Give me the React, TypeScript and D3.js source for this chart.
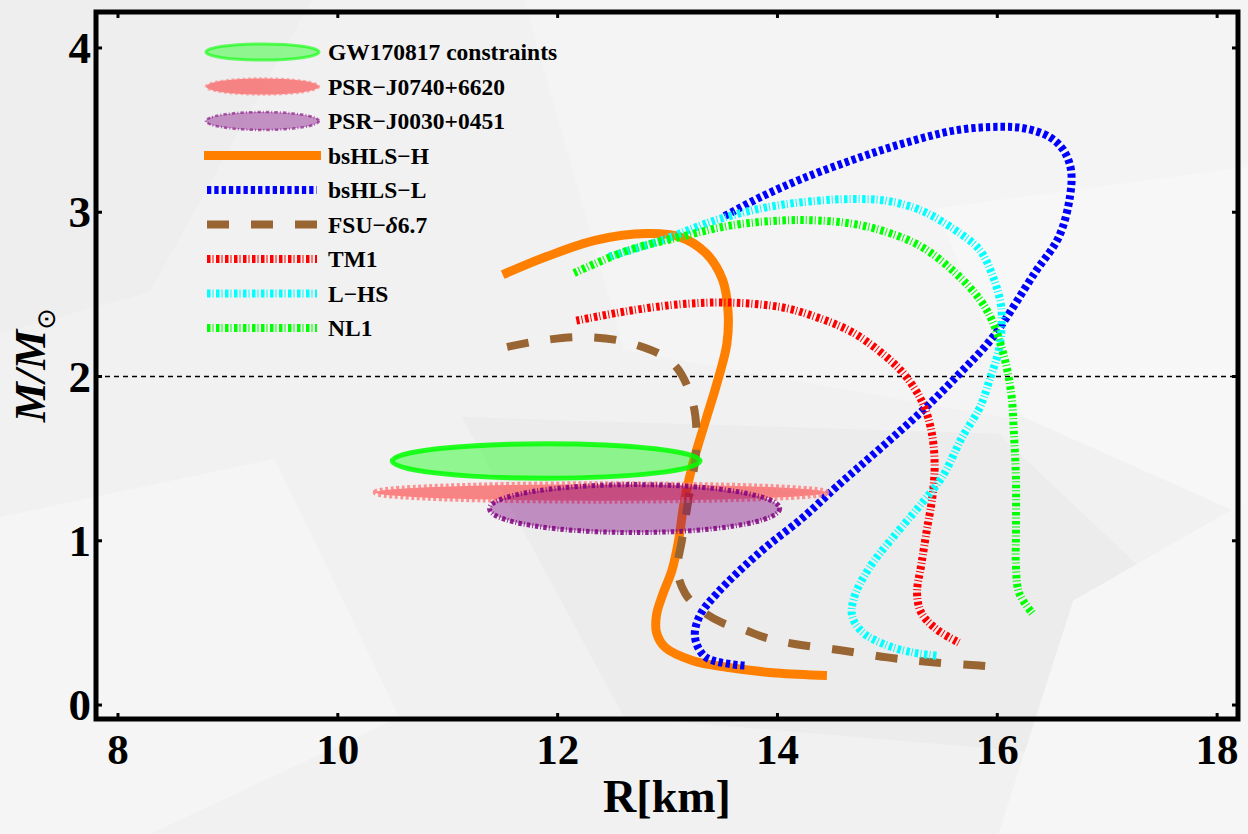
import React, { useEffect, useRef } from 'react';
import * as d3 from 'd3';

type Pt = [number, number];

const xTicks = [8, 10, 12, 14, 16, 18];
const yTicks = [0, 1, 2, 3, 4];

// mass-radius curves, [R in km, M in solar masses]
const bsHLSH: Pt[] = [
  [11.50, 2.62], [11.90, 2.73], [12.35, 2.83], [12.81, 2.87], [13.11, 2.85], [13.35, 2.75],
  [13.50, 2.59], [13.55, 2.40], [13.54, 2.20], [13.45, 1.96], [13.35, 1.74], [13.23, 1.47],
  [13.15, 1.23], [13.10, 1.00], [13.04, 0.82], [12.96, 0.68], [12.90, 0.55], [12.90, 0.44],
  [12.98, 0.35], [13.23, 0.27], [13.54, 0.23], [13.99, 0.195], [14.45, 0.18]
];
const bsHLSL: Pt[] = [
  [13.70, 0.24], [13.35, 0.29], [13.25, 0.41], [13.29, 0.54], [13.45, 0.68], [13.84, 0.93],
  [14.23, 1.14], [14.54, 1.33], [15.30, 1.78], [15.66, 2.02], [15.96, 2.24], [16.34, 2.63],
  [16.56, 2.85], [16.66, 3.09], [16.67, 3.26], [16.60, 3.38], [16.47, 3.46], [16.25, 3.51],
  [16.03, 3.52], [15.63, 3.50], [15.15, 3.42], [14.69, 3.32], [14.21, 3.20], [13.84, 3.09],
  [13.50, 2.97]
];
const fsu: Pt[] = [
  [11.54, 2.18], [11.86, 2.22], [12.27, 2.24], [12.68, 2.20], [13.05, 2.08], [13.23, 1.84],
  [13.26, 1.55], [13.20, 1.29], [13.13, 1.00], [13.09, 0.82], [13.16, 0.68], [13.30, 0.58],
  [13.50, 0.50], [13.69, 0.46], [13.89, 0.41], [14.17, 0.37], [14.56, 0.335], [15.00, 0.29],
  [15.41, 0.26], [15.84, 0.24], [15.93, 0.235]
];
const tm1: Pt[] = [
  [12.17, 2.34], [12.65, 2.40], [13.12, 2.44], [13.58, 2.45], [14.05, 2.42], [14.36, 2.36],
  [14.68, 2.27], [14.99, 2.12], [15.17, 2.00], [15.32, 1.84], [15.40, 1.67], [15.43, 1.47],
  [15.41, 1.27], [15.36, 1.07], [15.31, 0.86], [15.27, 0.68], [15.31, 0.56], [15.45, 0.46],
  [15.65, 0.38]
];
const lhs: Pt[] = [
  [12.47, 2.73], [12.95, 2.83], [13.43, 2.95], [13.90, 3.03], [14.36, 3.07], [14.68, 3.08],
  [14.99, 3.07], [15.31, 3.01], [15.62, 2.89], [15.84, 2.77], [15.96, 2.61], [16.03, 2.45],
  [16.04, 2.38], [16.02, 2.18], [15.93, 1.98], [15.84, 1.81], [15.68, 1.63], [15.50, 1.39],
  [15.29, 1.21], [15.05, 1.02], [14.84, 0.84], [14.70, 0.66], [14.68, 0.54], [14.78, 0.44],
  [14.99, 0.365], [15.23, 0.32], [15.45, 0.30]
];
const nl1: Pt[] = [
  [12.15, 2.63], [12.65, 2.77], [13.12, 2.85], [13.58, 2.92], [14.05, 2.95], [14.36, 2.95],
  [14.68, 2.93], [14.99, 2.88], [15.31, 2.79], [15.62, 2.63], [15.84, 2.47], [15.96, 2.33],
  [16.07, 2.10], [16.13, 1.88], [16.15, 1.67], [16.17, 1.37], [16.17, 1.07], [16.17, 0.84],
  [16.20, 0.68], [16.33, 0.55]
];

// observational constraints (ellipses)
const constraintNames = ['GW170817 constraints', 'PSR\u2212J0740+6620', 'PSR\u2212J0030+0451'];
const ellipseR = [11.895, 12.395, 12.70];
const ellipseM = [1.486, 1.294, 1.196];
const ellipseHalfR = [1.40, 2.05, 1.32];
const ellipseHalfM = [0.105, 0.05, 0.146];

const W = 1248;
const H = 834;
const serif = '"Liberation Serif", "Times New Roman", serif';

const App: React.FC = () => {
  const svgRef = useRef<SVGSVGElement>(null);

  useEffect(() => {
    if (!svgRef.current) return;
    const svg = d3.select(svgRef.current);
    svg.selectAll('*').remove();

    const x = d3.scaleLinear().domain([7.8, 18.19]).range([96, 1238]);
    const y = d3.scaleLinear().domain([-0.085, 4.219]).range([719, 12]);

    // soft faceted background
    svg.append('rect').attr('width', W).attr('height', H).attr('fill', '#f1f1f1');
    const facets: { pts: Pt[]; fill: string }[] = [
      { pts: [[0.42, 0], [1, 0], [1, 0.5], [0.8, 0.5], [0.5, 0.42]], fill: '#f4f4f4' },
      { pts: [[0.75, 0.25], [1, 0.2], [1, 0.62], [0.82, 0.5]], fill: '#f7f7f7' },
      { pts: [[0.37, 0.5], [0.8, 0.52], [0.97, 0.76], [0.97, 0.92], [0.5, 0.86]], fill: '#ececec' },
      { pts: [[0, 0.62], [0.22, 0.55], [0.32, 0.86], [0.12, 1], [0, 1]], fill: '#f5f5f5' },
      { pts: [[0.86, 0.72], [1, 0.6], [1, 1], [0.8, 1]], fill: '#f6f6f6' },
      { pts: [[0, 0], [0.25, 0], [0.12, 0.35], [0, 0.4]], fill: '#eeeeee' }
    ];
    facets.forEach(f => {
      svg.append('polygon')
        .attr('points', f.pts.map(p => `${p[0] * W},${p[1] * H}`).join(' '))
        .attr('fill', f.fill);
    });

    // reference line at 2 Msun
    svg.append('line')
      .attr('x1', x(7.8)).attr('x2', x(18.19))
      .attr('y1', y(2)).attr('y2', y(2))
      .attr('stroke', '#000').attr('stroke-width', 1.5).attr('stroke-dasharray', '5,4');

    const series = [
      { name: 'bsHLS\u2212H', data: bsHLSH, color: '#ff7f00', width: 9, dash: '' },
      { name: 'bsHLS\u2212L', data: bsHLSL, color: '#0000ff', width: 8, dash: '4.3,3' },
      { name: 'FSU\u2212', data: fsu, color: '#996633', width: 8, dash: '22,22' },
      { name: 'TM1', data: tm1, color: '#ff0000', width: 8, dash: '3.5,2,1,2.5' },
      { name: 'L\u2212HS', data: lhs, color: '#00ffff', width: 8, dash: '3.5,2,1,2.5' },
      { name: 'NL1', data: nl1, color: '#00ff00', width: 8, dash: '3.5,2,1,2.5' }
    ];

    const line = d3.line<Pt>()
      .x(d => x(d[0]))
      .y(d => y(d[1]))
      .curve(d3.curveCatmullRom.alpha(0.5));

    series.forEach(s => {
      svg.append('path')
        .attr('d', line(s.data))
        .attr('fill', 'none')
        .attr('stroke', s.color)
        .attr('stroke-width', s.width)
        .attr('stroke-linejoin', 'round')
        .attr('stroke-dasharray', s.dash || null);
    });

    // constraint ellipses
    const ellStyle = [
      { fill: '#00ff00', fillOp: 0.4, stroke: '#00ff00', sw: 5, dash: '' },
      { fill: '#ff0000', fillOp: 0.45, stroke: '#ff8080', sw: 6, dash: '3,2.5' },
      { fill: '#800080', fillOp: 0.4, stroke: '#800080', sw: 5, dash: '3.5,2,1,2' }
    ];
    constraintNames.forEach((_, i) => {
      const st = ellStyle[i];
      svg.append('ellipse')
        .attr('cx', x(ellipseR[i]))
        .attr('cy', y(ellipseM[i]))
        .attr('rx', x(ellipseR[i] + ellipseHalfR[i]) - x(ellipseR[i]))
        .attr('ry', y(ellipseM[i]) - y(ellipseM[i] + ellipseHalfM[i]))
        .attr('fill', st.fill).attr('fill-opacity', st.fillOp)
        .attr('stroke', st.stroke).attr('stroke-width', st.sw).attr('stroke-opacity', 0.85)
        .attr('stroke-dasharray', st.dash || null);
    });

    // legend
    const leg = svg.append('g');
    const rowY = (i: number) => 52 + i * 34.5;
    const iconX0 = 204;
    const iconX1 = 321;
    const textX = 328;
    constraintNames.forEach((name, i) => {
      const st = ellStyle[i];
      leg.append('ellipse')
        .attr('cx', (iconX0 + iconX1) / 2).attr('cy', rowY(i))
        .attr('rx', (iconX1 - iconX0) / 2 - 2).attr('ry', i === 2 ? 9 : 8)
        .attr('fill', st.fill).attr('fill-opacity', st.fillOp)
        .attr('stroke', st.stroke).attr('stroke-width', i === 0 ? 3 : 2.5).attr('stroke-opacity', 0.6)
        .attr('stroke-dasharray', st.dash || null);
      leg.append('text')
        .attr('x', textX).attr('y', rowY(i))
        .attr('dominant-baseline', 'central')
        .attr('font-family', serif).attr('font-weight', 'bold').attr('font-size', 23.5)
        .text(name);
    });
    series.forEach((s, j) => {
      const i = j + 3;
      leg.append('line')
        .attr('x1', s.dash ? iconX0 + 3 : iconX0).attr('x2', s.dash ? iconX1 - 4 : iconX1)
        .attr('y1', rowY(i)).attr('y2', rowY(i))
        .attr('stroke', s.color).attr('stroke-width', s.width)
        .attr('stroke-dasharray', s.dash || null);
      const t = leg.append('text')
        .attr('x', textX).attr('y', rowY(i))
        .attr('dominant-baseline', 'central')
        .attr('font-family', serif).attr('font-weight', 'bold').attr('font-size', 23.5)
        .text(s.name);
      if (s.name === 'FSU\u2212') {
        t.append('tspan').attr('font-style', 'italic').text('\u03b4');
        t.append('tspan').text('6.7');
      }
    });

    // frame and ticks
    svg.append('rect')
      .attr('x', 96).attr('y', 12).attr('width', 1142).attr('height', 707)
      .attr('fill', 'none').attr('stroke', '#000').attr('stroke-width', 5);

    xTicks.forEach(t => {
      svg.append('line').attr('x1', x(t)).attr('x2', x(t)).attr('y1', 719).attr('y2', 713)
        .attr('stroke', '#000').attr('stroke-width', 3);
      svg.append('line').attr('x1', x(t)).attr('x2', x(t)).attr('y1', 12).attr('y2', 18)
        .attr('stroke', '#000').attr('stroke-width', 3);
      svg.append('text')
        .attr('x', x(t)).attr('y', 764)
        .attr('text-anchor', 'middle')
        .attr('font-family', serif).attr('font-weight', 'bold').attr('font-size', 43)
        .text(t);
    });
    yTicks.forEach(t => {
      svg.append('line').attr('x1', 96).attr('x2', 102).attr('y1', y(t)).attr('y2', y(t))
        .attr('stroke', '#000').attr('stroke-width', 3);
      svg.append('line').attr('x1', 1238).attr('x2', 1232).attr('y1', y(t)).attr('y2', y(t))
        .attr('stroke', '#000').attr('stroke-width', 3);
      svg.append('text')
        .attr('x', 91).attr('y', y(t))
        .attr('text-anchor', 'end')
        .attr('dominant-baseline', 'central')
        .attr('font-family', serif).attr('font-weight', 'bold').attr('font-size', 45)
        .text(t);
    });

    // axis titles
    svg.append('text')
      .attr('x', 667).attr('y', 812)
      .attr('text-anchor', 'middle')
      .attr('font-family', serif).attr('font-weight', 'bold').attr('font-size', 46)
      .text('R[km]');

    const yl = svg.append('text')
      .attr('transform', 'translate(45,365) rotate(-90)')
      .attr('text-anchor', 'middle')
      .attr('font-family', serif).attr('font-weight', 'bold').attr('font-style', 'italic')
      .attr('font-size', 45);
    yl.append('tspan').text('M/M');
    yl.append('tspan')
      .attr('dy', 10)
      .attr('font-family', '"DejaVu Sans", sans-serif')
      .attr('font-style', 'normal').attr('font-weight', 'normal')
      .attr('font-size', 26)
      .text('\u2299');
  }, []);

  return (
    <svg
      ref={svgRef}
      width={W}
      height={H}
      style={{ position: 'absolute', left: 0, top: 0, display: 'block' }}
    />
  );
};

export default App;
